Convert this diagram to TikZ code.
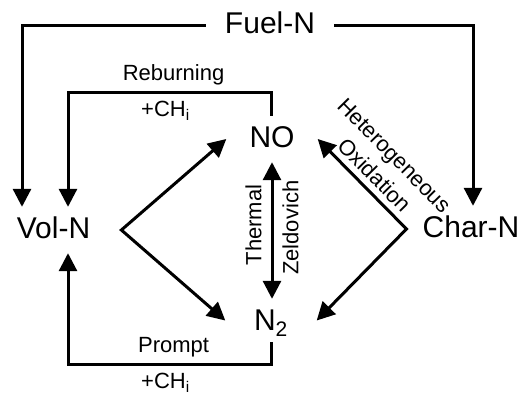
\documentclass[tikz,border=0pt]{standalone}
\usepackage{fontspec}
\setmainfont{Liberation Sans}
\usetikzlibrary{arrows.meta}

\begin{document}
\begin{tikzpicture}[x=1pt, y=-1pt,
  species/.style={font=\fontsize{30}{36}\selectfont, anchor=base,
                  text height=22pt, text depth=6pt, inner ysep=9pt},
  route/.style={font=\fontsize{22}{28}\selectfont, inner sep=6pt},
  arrow/.style={-{Triangle[length=18pt, width=18pt]}, line width=3pt},
  twoway/.style={{Triangle[length=18pt, width=18pt]}-{Triangle[length=18pt, width=18pt]}, line width=3pt}
]
  \useasboundingbox (0,0) rectangle (526,392);
  \node[species, inner xsep=19pt] (fuel) at (270,33) {Fuel-N};
  \node[species, inner xsep=31pt] (vol) at (53.5,238) {Vol-N};
  \node[species, inner xsep=16pt] (char) at (471,237) {Char-N};
  \node[species, minimum width=91pt, inner xsep=0pt] (no) at (272,147) {NO};
  \node[species, minimum width=91pt, inner xsep=0pt, text depth=3pt] (n2) at (271,330) {N\textsubscript{2}};
  \draw[arrow] (fuel.west) -| ([xshift=-31.5pt]vol.north);
  \draw[arrow] (fuel.east) -| ([xshift=2pt]char.north);
  \draw[arrow] ([xshift=-1pt]no.north) -- ++(0,-23)
    -| node[route, above, pos=.24] {Reburning} node[route, below, pos=.26, inner sep=7pt] {+CH\textsubscript{i}}
    ([xshift=14.5pt]vol.north);
  \draw[twoway] (no.west) -- (vol.east) -- (n2.west);
  \draw[twoway] (no.east) -- node[route, font=\fontsize{22}{28}\selectfont, sloped, above, align=center, pos=.52, inner sep=6pt] {Heterogeneous\\Oxidation}
    (char.west) -- (n2.east);
  \draw[twoway] (no.south) -- node[route, pos=.46, rotate=90, above, inner sep=9pt] {Thermal}
    node[route, pos=.48, rotate=90, below, inner sep=9pt] {Zeldovich} (no.south |- n2.north);
  \draw[arrow] (n2.south) -- ++(0,22)
    -| node[route, above, pos=.24] {Prompt} node[route, below, pos=.26, inner sep=7pt] {+CH\textsubscript{i}}
    ([xshift=14.5pt]vol.south);
\end{tikzpicture}
\end{document}
